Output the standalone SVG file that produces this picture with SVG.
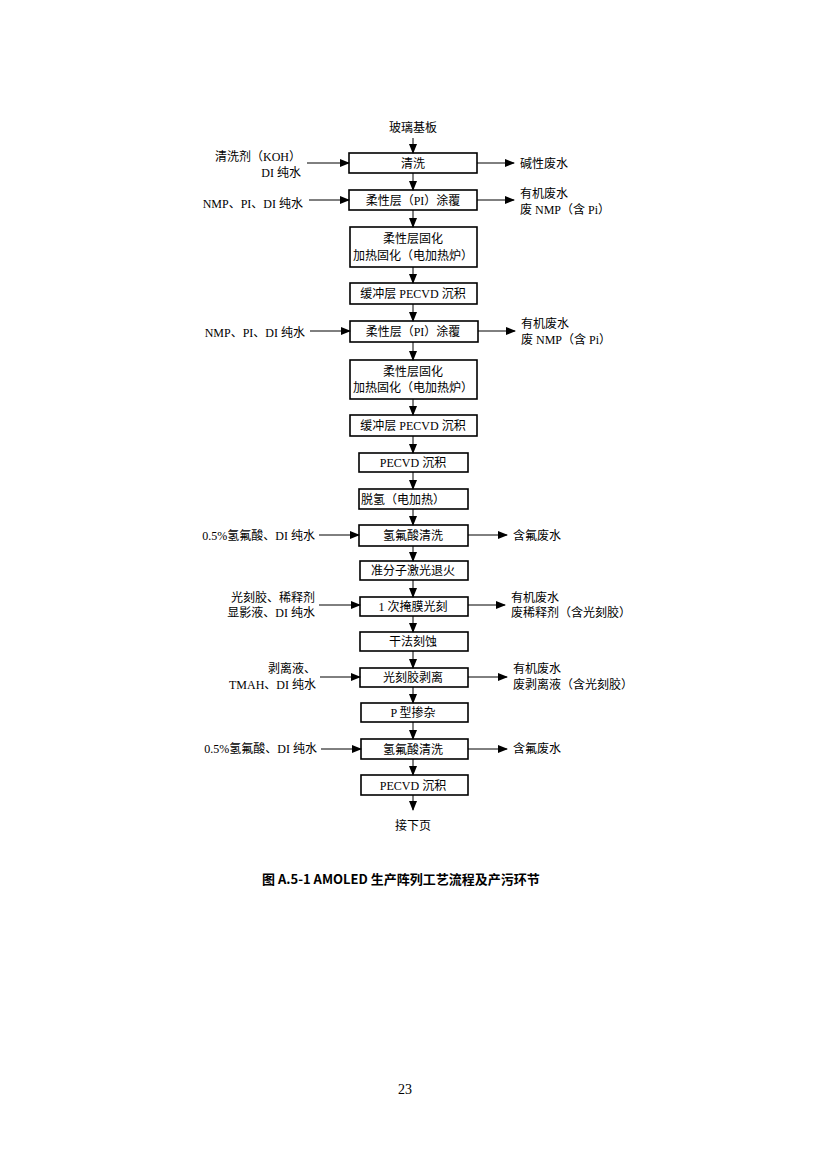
<svg xmlns="http://www.w3.org/2000/svg" width="826" height="1169" viewBox="0 0 826 1169">
<defs><marker id="a" markerWidth="10" markerHeight="8" refX="9" refY="4" orient="auto" markerUnits="userSpaceOnUse"><path d="M0,0L10,4L0,8z" fill="#000"/></marker></defs>
<style>
rect{fill:#fff;stroke:#000;stroke-width:1.6}
text{font-family:"Liberation Serif","Noto Sans CJK SC",serif;font-size:12px;fill:#000}
.c{text-anchor:middle}.r{text-anchor:end}
line{stroke:#000;stroke-width:1}
</style>
<rect width="826" height="1169" fill="#fff" style="stroke:none"/>
<text class="c" x="413" y="132">玻璃基板</text>
<g id="n1"><rect x="349" y="153" width="128" height="20"/><text class="c" x="413" y="168">清洗</text></g>
<g id="n2"><rect x="349" y="190" width="128" height="20"/><text class="c" x="413" y="205">柔性层（PI）涂覆</text></g>
<g id="n3"><rect x="350" y="227" width="127" height="40"/><text class="c" x="413" y="243">柔性层固化</text><text class="c" x="413" y="260">加热固化（电加热炉）</text></g>
<g id="n4"><rect x="350" y="283" width="127" height="21"/><text class="c" x="413" y="298">缓冲层 PECVD 沉积</text></g>
<g id="n5"><rect x="350" y="321" width="128" height="21"/><text class="c" x="413" y="336">柔性层（PI）涂覆</text></g>
<g id="n6"><rect x="350" y="360" width="127" height="39"/><text class="c" x="413" y="376">柔性层固化</text><text class="c" x="413" y="392">加热固化（电加热炉）</text></g>
<g id="n7"><rect x="350" y="415" width="127" height="21"/><text class="c" x="413" y="430">缓冲层 PECVD 沉积</text></g>
<g id="n8"><rect x="359" y="453" width="109" height="19"/><text class="c" x="413" y="467">PECVD 沉积</text></g>
<g id="n9"><rect x="359" y="489" width="109" height="20"/><text x="361" y="504">脱氢（电加热）</text></g>
<g id="n10"><rect x="359" y="525" width="109" height="21"/><text class="c" x="413" y="540">氢氟酸清洗</text></g>
<g id="n11"><rect x="360" y="561" width="108" height="19"/><text class="c" x="413" y="575">准分子激光退火</text></g>
<g id="n12"><rect x="360" y="597" width="108" height="19"/><text class="c" x="413" y="611">1 次掩膜光刻</text></g>
<g id="n13"><rect x="360" y="632" width="108" height="19"/><text class="c" x="413" y="646">干法刻蚀</text></g>
<g id="n14"><rect x="360" y="668" width="108" height="19"/><text class="c" x="413" y="682">光刻胶剥离</text></g>
<g id="n15"><rect x="361" y="703" width="107" height="19"/><text class="c" x="413" y="717">P 型掺杂</text></g>
<g id="n16"><rect x="361" y="739" width="107" height="20"/><text class="c" x="413" y="754">氢氟酸清洗</text></g>
<g id="n17"><rect x="361" y="775" width="107" height="20"/><text class="c" x="413" y="790">PECVD 沉积</text></g>
<text class="c" x="413" y="830">接下页</text>
<g id="labels">
<text class="r" x="301" y="161">清洗剂（KOH）</text><text class="r" x="301" y="177">DI 纯水</text>
<text x="520" y="168">碱性废水</text>
<text class="r" x="303" y="208">NMP、PI、DI 纯水</text>
<text x="520" y="198">有机废水</text><text x="520" y="214">废 NMP（含 Pi）</text>
<text class="r" x="305" y="337">NMP、PI、DI 纯水</text>
<text x="521" y="328">有机废水</text><text x="521" y="344">废 NMP（含 Pi）</text>
<text class="r" x="315" y="540">0.5%氢氟酸、DI 纯水</text><text x="513" y="540">含氟废水</text>
<text class="r" x="315" y="602">光刻胶、稀释剂</text><text class="r" x="315" y="617">显影液、DI 纯水</text>
<text x="511" y="602">有机废水</text><text x="511" y="617">废稀释剂（含光刻胶）</text>
<text class="r" x="316" y="673">剥离液、</text><text class="r" x="316" y="689">TMAH、DI 纯水</text>
<text x="513" y="673">有机废水</text><text x="513" y="689">废剥离液（含光刻胶）</text>
<text class="r" x="317" y="753">0.5%氢氟酸、DI 纯水</text><text x="513" y="753">含氟废水</text>
</g>
<g id="connectors" marker-end="url(#a)">
<line x1="413" y1="138" x2="413" y2="153"/><line x1="413" y1="173" x2="413" y2="190"/>
<line x1="413" y1="210" x2="413" y2="227"/><line x1="413" y1="267" x2="413" y2="283"/>
<line x1="413" y1="304" x2="413" y2="321"/><line x1="413" y1="342" x2="413" y2="360"/>
<line x1="413" y1="399" x2="413" y2="415"/><line x1="413" y1="436" x2="413" y2="453"/>
<line x1="413" y1="472" x2="413" y2="489"/><line x1="413" y1="509" x2="413" y2="525"/>
<line x1="413" y1="546" x2="413" y2="561"/><line x1="413" y1="580" x2="413" y2="597"/>
<line x1="413" y1="616" x2="413" y2="632"/><line x1="413" y1="651" x2="413" y2="668"/>
<line x1="413" y1="687" x2="413" y2="703"/><line x1="413" y1="722" x2="413" y2="739"/>
<line x1="413" y1="759" x2="413" y2="775"/><line x1="413" y1="795" x2="413" y2="810"/>
<line x1="307" y1="163" x2="349" y2="163"/><line x1="477" y1="163" x2="514" y2="163"/>
<line x1="309" y1="200" x2="349" y2="200"/><line x1="477" y1="200" x2="514" y2="200"/>
<line x1="310" y1="331" x2="350" y2="331"/><line x1="478" y1="331" x2="515" y2="331"/>
<line x1="319" y1="535" x2="359" y2="535"/><line x1="468" y1="535" x2="507" y2="535"/>
<line x1="319" y1="605" x2="360" y2="605"/><line x1="468" y1="605" x2="505" y2="605"/>
<line x1="320" y1="677" x2="360" y2="677"/><line x1="468" y1="677" x2="507" y2="677"/>
<line x1="321" y1="749" x2="361" y2="749"/><line x1="468" y1="749" x2="507" y2="749"/>
</g>
<text x="262" y="884" style="font-family:'Noto Sans CJK SC','Noto Sans',sans-serif;font-size:13px;font-weight:bold">图 A.5-1   AMOLED 生产阵列工艺流程及产污环节</text>
<text class="c" x="405" y="1094" style="font-size:14px">23</text>
</svg>
